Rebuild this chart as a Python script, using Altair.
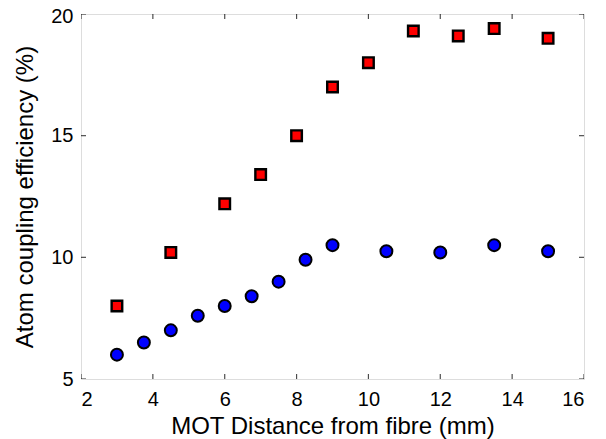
import altair as alt
import pandas as pd

# Data
red_x = [3, 4.5, 6, 7, 8, 9, 10, 11.25, 12.5, 13.5, 15]
red_y = [8.0, 10.2, 12.2, 13.4, 15.0, 17.0, 18.0, 19.3, 19.1, 19.4, 19.0]
blue_x = [3, 3.75, 4.5, 5.25, 6, 6.75, 7.5, 8.25, 9, 10.5, 12, 13.5, 15]
blue_y = [6.0, 6.5, 7.0, 7.6, 8.0, 8.4, 9.0, 9.9, 10.5, 10.25, 10.2, 10.5, 10.25]
x_ticks = [2, 4, 6, 8, 10, 12, 14, 16]
y_ticks = [5, 10, 15, 20]

red_df = pd.DataFrame({"x": red_x, "y": red_y})
blue_df = pd.DataFrame({"x": blue_x, "y": blue_y})
xt_df = pd.DataFrame({"x": x_ticks * 2, "y": [5] * len(x_ticks) + [20] * len(x_ticks)})
yt_df = pd.DataFrame({"x": [2] * len(y_ticks) + [16] * len(y_ticks), "y": y_ticks * 2})

FONT = "Liberation Sans"

x_enc = alt.X(
    "x:Q",
    scale=alt.Scale(domain=[2, 16], nice=False, zero=False),
    axis=alt.Axis(
        values=x_ticks, ticks=False, domain=False, grid=False,
        labelFont=FONT, labelFontSize=20, labelColor="black", labelPadding=10,
        title="MOT Distance from fibre (mm)", titleFont=FONT, titleFontSize=24,
        titleFontWeight="normal", titleColor="black",
        titleBaseline="alphabetic", titleY=54,
    ),
)
y_enc = alt.Y(
    "y:Q",
    scale=alt.Scale(domain=[5, 20], nice=False, zero=False),
    axis=alt.Axis(
        values=y_ticks, ticks=False, domain=False, grid=False,
        labelFont=FONT, labelFontSize=20, labelColor="black", labelPadding=8,
        labelOffset={"condition": {"test": "datum.value == 20", "value": 2}, "value": 0},
        title="Atom coupling efficiency (%)", titleFont=FONT, titleFontSize=24,
        titleFontWeight="normal", titleColor="black",
        titleBaseline="alphabetic", titleX=-49, titleY=182.5,
    ),
)

xticks = alt.Chart(xt_df).mark_tick(
    clip=True, color="black", size=10, thickness=1.2, orient="vertical"
).encode(x=x_enc, y=y_enc)
yticks = alt.Chart(yt_df).mark_tick(
    clip=True, color="black", size=10, thickness=1.2, orient="horizontal"
).encode(x=x_enc, y=y_enc)

blue = alt.Chart(blue_df).mark_point(
    shape="circle", filled=True, fill="#0000FF", stroke="black",
    strokeWidth=2, size=143, opacity=1,
).encode(x=x_enc, y=y_enc)
red = alt.Chart(red_df).mark_point(
    shape="square", filled=True, fill="#FF0000", stroke="black",
    strokeWidth=2.4, size=112, opacity=1,
).encode(x=x_enc, y=y_enc)

chart = alt.layer(xticks, yticks, blue, red).properties(
    width=503,
    height=365,
    autosize=alt.AutoSizeParams(type="none"),
    padding={"left": 73, "top": 6, "right": 14, "bottom": 60},
).configure_view(stroke="black", strokeWidth=1.2).configure(background="white")

chart.save("out.html", embed_options={"renderer": "svg", "actions": False})
